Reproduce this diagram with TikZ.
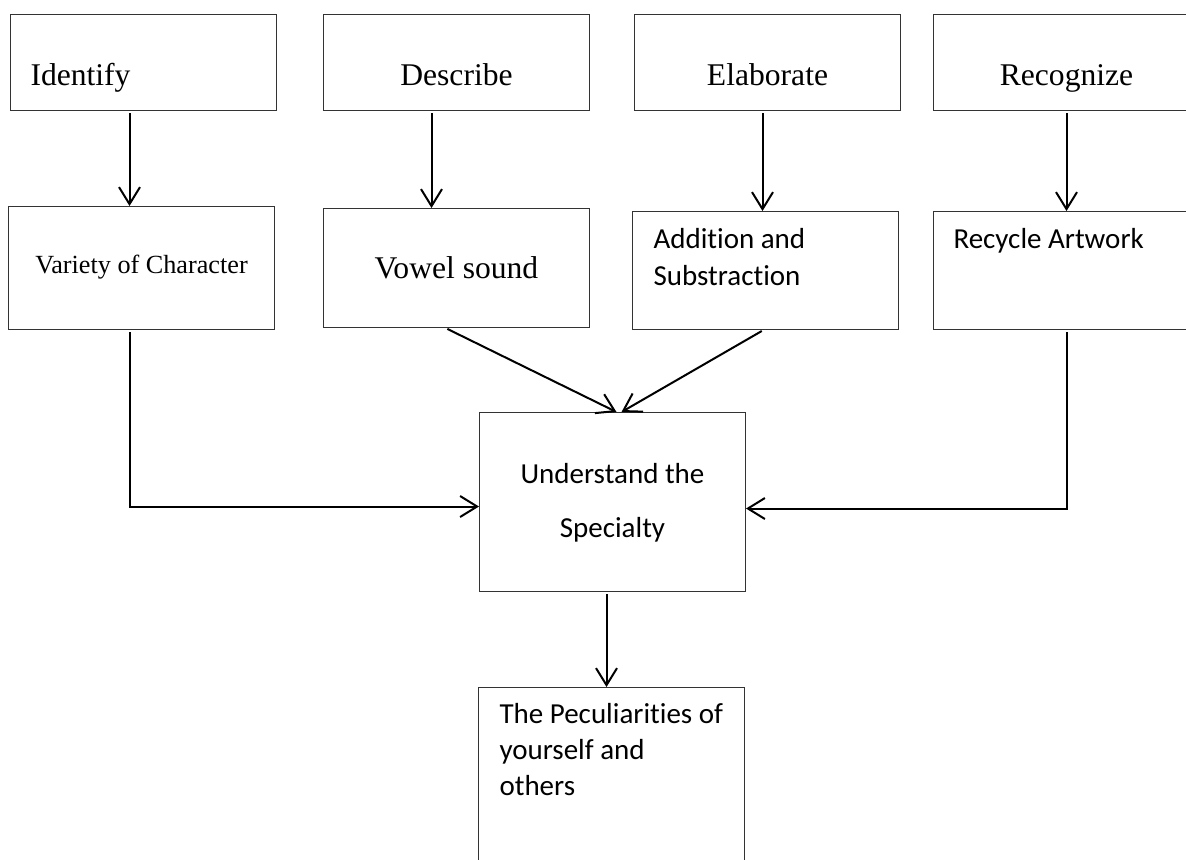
\documentclass[tikz,border=0pt]{standalone}
\usepackage{fontspec}
\setmainfont{Liberation Serif}
\setsansfont{Carlito}[Ligatures=CommonOff]
\usepackage{tikz}
\usetikzlibrary{arrows.meta}
\usetikzlibrary{calc}

\begin{document}
\begin{tikzpicture}[x=0.5pt, y=-0.5pt,
	box/.style={draw=black!80, line width=0.5pt, anchor=north west, inner ysep=0pt, inner xsep=10pt, text width=113pt},
	verb/.style={box, align=flush center, font=\fontsize{15.8}{19}\selectfont},
	note/.style={box, align=flush left, inner xsep=10.5pt, text width=112pt, font=\sffamily\fontsize{14.5}{18.5}\selectfont},
	>={Straight Barb[length=8.5pt,width=10.5pt]},
	link/.style={->, line width=1pt, shorten <=1pt}]
	\useasboundingbox (0,0) rectangle (1186,859);
	\node[verb, align=flush left, text height=35.5pt, text depth=12.5pt] (ident) at (10,14) {Identify};
	\node[verb, text height=35.5pt, text depth=12.5pt] (descr) at (323,14) {Describe};
	\node[verb, text height=35.5pt, text depth=12.5pt] (elab) at (634,14) {Elaborate};
	\node[verb, text height=35.5pt, text depth=12.5pt] (recog) at (933,14) {Recognize};
	\node[verb, font=\fontsize{13.1}{16}\selectfont, text height=33.5pt, text depth=28pt] (variety) at (8,206) {Variety of Character};
	\node[verb, text height=35pt, text depth=24.5pt] (vowel) at (323,208) {Vowel sound};
	\node[note, text height=18.5pt, text depth=40.5pt] (addsub) at (632,211) {Addition and\\Substraction};
	\node[note, inner xsep=10pt, text width=113pt, text height=18.5pt, text depth=40.5pt] (recycle) at (933,211) {Recycle Artwork};
	\node[note, align=flush center, font=\sffamily\fontsize{14.5}{27}\selectfont, text height=35.5pt, text depth=54pt] (underst) at (479,412) {Understand the\\Specialty};
	\node[note, font=\sffamily\fontsize{14.5}{18}\selectfont, text height=18pt, text depth=82pt] (pecul) at (478,687) {\mbox{The Peculiarities of}\\yourself and\\others};
	\draw[link] ([xshift=-7pt]ident.south) -- ([xshift=-7pt]ident.south |- variety.north);
	\draw[link] ([xshift=-12.5pt]descr.south) -- ([xshift=-12.5pt]descr.south |- vowel.north);
	\draw[link] ([xshift=-2.5pt]elab.south) -- ([xshift=-2.5pt]elab.south |- addsub.north);
	\draw[link] (recog.south) -- (recog.south |- recycle.north);
	\draw[link] ([xshift=-5.5pt]vowel.south) -- ([xshift=2pt]underst.north);
	\draw[link] ([xshift=-1pt]addsub.south) -- ([xshift=4.5pt]underst.north);
	\draw[link] ([xshift=-6pt]variety.south) |- ([yshift=-2.25pt]underst.west);
	\draw[link] (recycle.south) |- ([yshift=-3.25pt]underst.east);
	\draw[link] ([xshift=-3pt]underst.south) -- ([xshift=-3pt]underst.south |- pecul.north);
\end{tikzpicture}
\end{document}
